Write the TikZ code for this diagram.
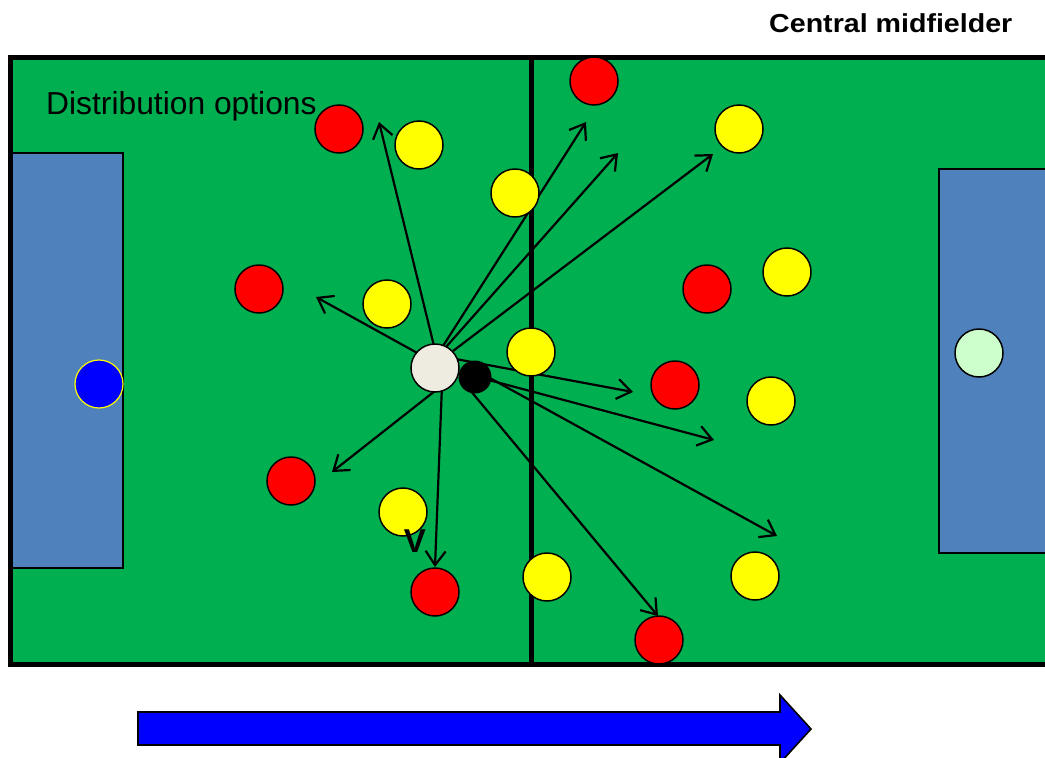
\documentclass[tikz,border=0pt]{standalone}
\usepackage{fontspec}
\setmainfont{Liberation Sans}
\usetikzlibrary{arrows.meta}
\definecolor{pitch}{HTML}{00B050}
\definecolor{boxblue}{HTML}{4F81BD}
\definecolor{redp}{HTML}{FF0000}
\definecolor{yellowp}{HTML}{FFFF00}
\definecolor{whitep}{HTML}{EEECE1}
\definecolor{keeperg}{HTML}{CCFFCC}
\definecolor{keeperb}{HTML}{0000FF}
\definecolor{flow}{HTML}{0000FF}
\tikzset{
  player/.style={circle, draw=black, line width=1.5pt, minimum size=48pt, inner sep=0pt},
  redplayer/.style={player, fill=redp},
  yellowplayer/.style={player, fill=yellowp},
  pass/.style={draw=black, line width=2.2pt,
    -{Straight Barb[length=14pt,width=20pt,line width=2.2pt]}},
  goalbox/.style={draw=black, line width=1.6pt, fill=boxblue},
}
\begin{document}
\begin{tikzpicture}[x=1pt,y=-1pt]
\useasboundingbox (0,0) rectangle (1045,758);
\clip (0,0) rectangle (1045,758);

% pitch, halfway line and penalty areas
\fill[pitch] (10,57) rectangle (1070,664);
\draw[goalbox] (10,153) rectangle (123,568);
\draw[goalbox] (939,169) rectangle (1070,553);
\draw[line width=5pt] (531,57) -- (531,664);
\draw[line width=5pt] (1070,57) -- (10.5,57) -- (10.5,664) -- (1070,664);

% labels
\node[anchor=base west, inner sep=0pt, font=\fontsize{31.8}{32}\selectfont] (lbl) at (46,114) {Distribution options};
\node[anchor=base west, inner sep=0pt, font=\fontsize{26}{26}\selectfont\bfseries] (title) at (769,32) {\scalebox{1.1}[1]{Central midfielder}};

% pass start and end points
\coordinate (s1) at (435,350);
\coordinate (e1) at (379,122);
\coordinate (s2) at (443,346);
\coordinate (e2) at (586,122);
\coordinate (s3) at (446,347);
\coordinate (e3) at (618,153);
\coordinate (s4) at (453,351);
\coordinate (e4) at (713,154);
\coordinate (s5) at (430,360);
\coordinate (e5) at (316,297);
\coordinate (s6) at (440,387);
\coordinate (e6) at (332,472);
\coordinate (s7) at (442,385);
\coordinate (e7) at (435,567);
\coordinate (s8) at (445,357);
\coordinate (e8) at (633,392);
\coordinate (s9) at (470,375);
\coordinate (e9) at (714,440);
\coordinate (s10) at (468,366);
\coordinate (e10) at (777,536);
\coordinate (s11) at (460,378);
\coordinate (e11) at (658,616);

\foreach \i in {1,...,11} \draw[pass] (s\i) -- (e\i);

% goalkeepers
\node[player, fill=keeperb, draw=yellowp, line width=1.2pt] (gkl) at (99,384) {};
\node[player, fill=keeperg] (gkr) at (979,353) {};

% red team
\node[redplayer] (r1) at (339,129) {};
\node[redplayer] (r2) at (594,81) {};
\node[redplayer] (r3) at (259,289) {};
\node[redplayer] (r4) at (707,289) {};
\node[redplayer] (r5) at (675,385) {};
\node[redplayer] (r6) at (291,481) {};
\node[redplayer] (r7) at (435,592) {};
\node[redplayer] (r8) at (659,640) {};

% yellow team
\node[yellowplayer] (y1) at (419,145) {};
\node[yellowplayer] (y2) at (739,129) {};
\node[yellowplayer] (y3) at (515,193) {};
\node[yellowplayer] (y4) at (787,272) {};
\node[yellowplayer] (y5) at (387,304) {};
\node[yellowplayer] (y6) at (531,352) {};
\node[yellowplayer] (y7) at (771,401) {};
\node[yellowplayer] (y8) at (403,512) {};
\node[yellowplayer] (y9) at (547,577) {};
\node[yellowplayer] (y10) at (755,576) {};

% central midfielder and ball
\node[player, fill=whitep] (cm) at (435,368) {};
\node[circle, fill=black, minimum size=33pt, inner sep=0pt] (ball) at (475,377) {};

\node[inner sep=0pt, anchor=base, font=\fontsize{33}{33}\selectfont\bfseries] (v) at (415,552) {V};

% direction of play
\draw[line width=1.6pt, fill=flow] (138,712) -- (780,712) -- (780,695) -- (811,729)
  -- (780,763) -- (780,745) -- (138,745) -- cycle;
\end{tikzpicture}
\end{document}
